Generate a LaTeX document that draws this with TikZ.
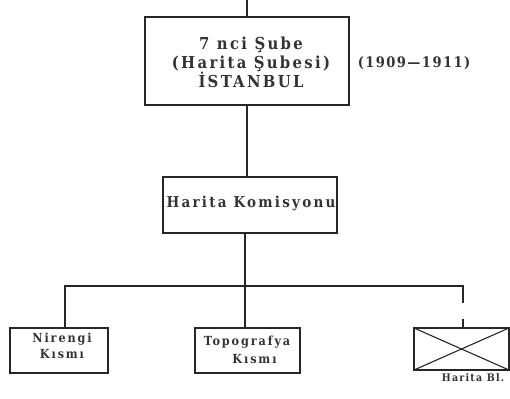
\documentclass[tikz,border=0pt]{standalone}
\usepackage{fontspec}
\setmainfont{DejaVu Serif}
\newfontfamily\boxfont[LetterSpace=14,UprightFont=* Bold]{DejaVu Serif Condensed}
\newfontfamily\datefont[LetterSpace=10,UprightFont=* Bold]{DejaVu Serif Condensed}
\newfontfamily\komfont[LetterSpace=15,UprightFont=* Bold]{DejaVu Serif Condensed}
\newfontfamily\smallfont[LetterSpace=15,UprightFont=* Bold]{DejaVu Serif Condensed}
\newfontfamily\tinyfont[LetterSpace=12,UprightFont=* Bold]{DejaVu Serif Condensed}
\begin{document}
\begin{tikzpicture}[x=1pt,y=-1pt,line width=1.3pt,
  orgbox/.style={draw=black!85,rectangle,inner sep=0pt,outer sep=0pt},
  bigtxt/.style={inner sep=0pt,align=center,font=\boxfont\fontsize{16.5}{19}\selectfont,text=black!80},
  datetxt/.style={inner sep=0pt,font=\datefont\fontsize{14.5}{18}\selectfont,text=black!80},
  komtxt/.style={inner sep=0pt,align=center,font=\komfont\fontsize{15}{18}\selectfont,text=black!80},
  midtxt/.style={inner sep=0pt,align=center,font=\smallfont\fontsize{12.5}{16.5}\selectfont,text=black!80},
  smalltxt/.style={inner sep=0pt,font=\tinyfont\fontsize{10.5}{12}\selectfont,text=black!80},
  link/.style={draw=black!85}]
\useasboundingbox (0,0) rectangle (510,398);
% boxes
\node[orgbox,minimum width=204pt,minimum height=88pt] (b1) at (247,61) {};
\node[orgbox,minimum width=174pt,minimum height=56pt] (b2) at (250,205) {};
\node[orgbox,minimum width=98pt,minimum height=45pt] (n1) at (59,350.5) {};
\node[orgbox,minimum width=105pt,minimum height=45pt] (n2) at (247.5,350.5) {};
\node[orgbox,minimum width=95pt,minimum height=42pt] (n3) at (461.5,349) {};
% texts
\node[bigtxt] (t1) at (251,62) {7 nci Şube\\(Harita Şubesi)\\İSTANBUL};
\node[datetxt] (t0) at (414,63) {(1909—1911)};
\node[komtxt] (t2) at (251,203) {Harita Komisyonu};
\node[midtxt] (t3) at (62,346) {Nirengi\\Kısmı};
\node[midtxt] (t4a) at (247,342) {Topografya};
\node[midtxt] (t4b) at (254.5,359) {Kısmı};
\node[smalltxt] (t5) at (473,378) {Harita Bl.};
% connectors
\coordinate (top) at (247,0);
\coordinate (hub) at (245,286);
\coordinate (dl) at (65,286);
\coordinate (dr) at (463,286);
\coordinate (gapa) at (463,303);
\coordinate (gapb) at (463,319);
\draw[link] (top) -- (top |- b1.north);
\draw[link] (top |- b1.south) -- (top |- b2.north);
\draw[link] (hub |- b2.south) -- (hub);
\draw[link] (dl |- n1.north) -- (dl) -- (dr) -- (gapa);
\draw[link] (gapb) -- (dr |- n3.north);
\draw[link] (hub) -- (hub |- n2.north);
\draw[link,line width=1.1pt] (n3.north west) -- (n3.south east);
\draw[link,line width=1.1pt] (n3.south west) -- (n3.north east);
\end{tikzpicture}
\end{document}
